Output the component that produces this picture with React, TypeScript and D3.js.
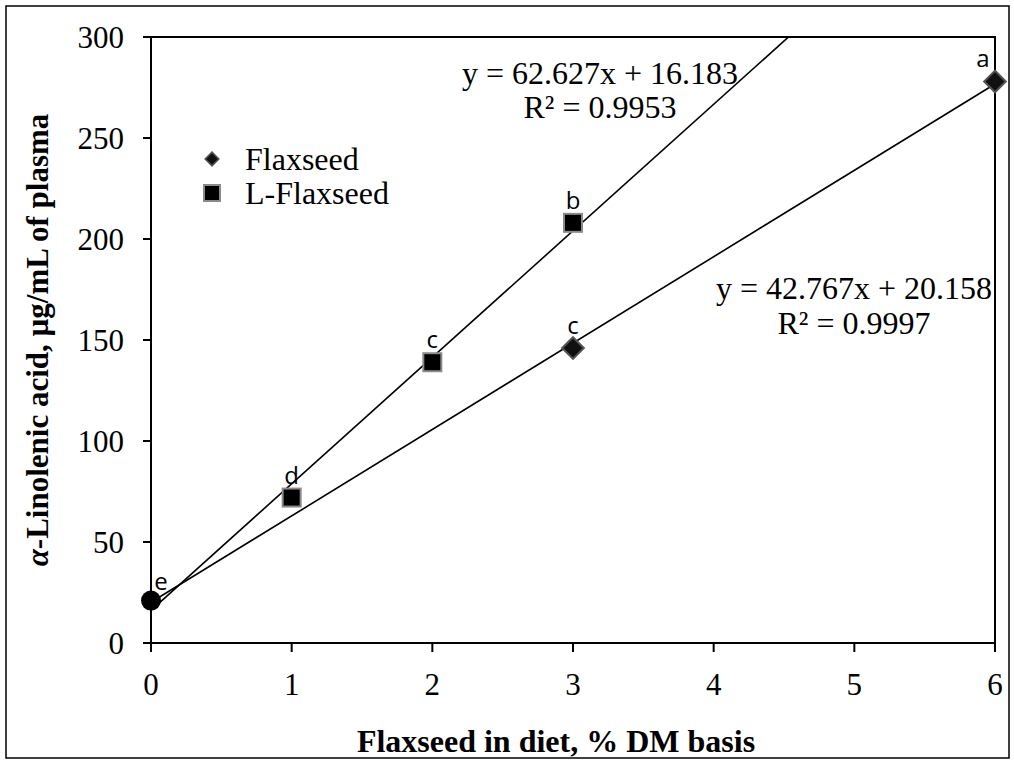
import React from 'react'
import * as d3 from 'd3'

const width = 1014
const height = 764
const margin = { top: 37, right: 19, bottom: 121, left: 151 }

// x-axis tick labels, % flaxseed in diet
const doseTicks = [0, 1, 2, 3, 4, 5, 6]
const alaTicks = [0, 50, 100, 150, 200, 250, 300]

// Flaxseed series
const flaxDose = [3, 6]
const flaxAla = [146, 278]
const flaxLetters = ['c', 'a']

// L-Flaxseed series
const lflaxDose = [1, 2, 3]
const lflaxAla = [72, 139, 208]
const lflaxLetters = ['d', 'c', 'b']

// shared control (0 %)
const ctrlDose = [0]
const ctrlAla = [21]
const ctrlLetters = ['e']

// trendlines: slope, intercept
const flaxFit = [42.767, 20.158]
const lflaxFit = [62.627, 16.183]
const flaxEq = ['y = 42.767x + 20.158', 'R² = 0.9997']
const lflaxEq = ['y = 62.627x + 16.183', 'R² = 0.9953']

const legendNames = ['Flaxseed', 'L-Flaxseed']

const serif = "'Liberation Serif', 'Times New Roman', serif"
const sans = "'Open Sans', 'DejaVu Sans', sans-serif"

export default function App() {
  const x = d3.scaleLinear().domain([0, 6]).range([margin.left, width - margin.right])
  const y = d3.scaleLinear().domain([0, 300]).range([height - margin.bottom, margin.top])
  const x0 = x.range()[0], x1 = x.range()[1]
  const y0 = y.range()[0], y1 = y.range()[1]

  const fitPath = (fit: number[]) =>
    d3.line<number>()
      .x(d => x(d))
      .y(d => y(fit[0] * d + fit[1]))([0, 6])

  const diamond = d3.symbol().type(d3.symbolDiamond2)
  // letters sit above each point, kept inside the plot area
  const letter = (px: number, py: number, t: string, k: string) => (
    <text key={k} x={Math.min(Math.max(px, x0 + 10), x1 - 12)} y={py - 14}
      fontFamily={sans} fontSize={24} textAnchor="middle" fill="#000">{t}</text>
  )

  return (
    <div>
      <style>{`body{margin:0}`}</style>
      <svg width={width} height={height} style={{ display: 'block' }}>
        <rect x={0} y={0} width={width} height={height} fill="#fff" />
        <rect x={6} y={6} width={1003} height={752} fill="none" stroke="#000" strokeWidth={1.5} />
        <defs>
          <clipPath id="plot">
            <rect x={x0} y={y1} width={x1 - x0} height={y0 - y1} />
          </clipPath>
        </defs>

        {/* plot border (top/right) */}
        <path d={`M${x0},${y1}H${x1}V${y0}`} fill="none" stroke="#000" strokeWidth={2} />

        {/* trendlines */}
        <g clipPath="url(#plot)" stroke="#000" strokeWidth={1.6} fill="none">
          <path d={fitPath(flaxFit) || ''} />
          <path d={fitPath(lflaxFit) || ''} />
        </g>

        {/* axes */}
        <g stroke="#000" strokeWidth={2}>
          <line x1={x0} x2={x0} y1={y1} y2={y0 + 1} />
          <line x1={x0 - 1} x2={x1} y1={y0} y2={y0} />
          {alaTicks.map(t => <line key={'yt' + t} x1={x0 - 8} x2={x0} y1={y(t)} y2={y(t)} />)}
          {doseTicks.map(t => <line key={'xt' + t} x1={x(t)} x2={x(t)} y1={y0} y2={y0 + 9} />)}
        </g>
        <g fontFamily={serif} fontSize={31} fill="#000">
          {alaTicks.map(t => (
            <text key={'yl' + t} x={x0 - 27} y={y(t)} dy="0.34em" textAnchor="end">{t}</text>
          ))}
          {doseTicks.map(t => (
            <text key={'xl' + t} x={x(t)} y={y0 + 52} textAnchor="middle">{t}</text>
          ))}
        </g>

        {/* markers */}
        {lflaxDose.map((d, i) => (
          <rect key={'sq' + i} x={x(d) - 9} y={y(lflaxAla[i]) - 9} width={18} height={18}
            fill="#000" stroke="#8a8a8a" strokeWidth={2} />
        ))}
        {flaxDose.map((d, i) => (
          <path key={'dm' + i} d={diamond.size(300)() || ''}
            transform={`translate(${x(d)},${y(flaxAla[i])})`}
            fill="#111" stroke="#555" strokeWidth={2} />
        ))}
        {ctrlDose.map((d, i) => (
          <circle key={'ct' + i} cx={x(d)} cy={y(ctrlAla[i])} r={10} fill="#000" />
        ))}

        {/* significance letters */}
        {flaxDose.map((d, i) => letter(x(d), y(flaxAla[i]), flaxLetters[i], 'fl' + i))}
        {lflaxDose.map((d, i) => letter(x(d), y(lflaxAla[i]), lflaxLetters[i], 'll' + i))}
        {ctrlDose.map((d, i) => letter(x(d), y(ctrlAla[i]) + 3, ctrlLetters[i], 'cl' + i))}

        {/* trendline equations */}
        <g fontFamily={serif} fontSize={32} fill="#000" textAnchor="middle">
          {lflaxEq.map((t, i) => <text key={'le' + i} x={600} y={84 + i * 34}>{t}</text>)}
          {flaxEq.map((t, i) => <text key={'fe' + i} x={854} y={299 + i * 35}>{t}</text>)}
        </g>

        {/* legend */}
        <g fontFamily={serif} fontSize={32} fill="#000">
          <path d={diamond.size(120)() || ''} transform="translate(212,159)" fill="#111" stroke="#555" strokeWidth={1.5} />
          <text x={245} y={159} dy="0.34em">{legendNames[0]}</text>
          <rect x={204} y={185} width={16} height={16} fill="#000" stroke="#8a8a8a" strokeWidth={2} />
          <text x={245} y={193} dy="0.34em">{legendNames[1]}</text>
        </g>

        {/* axis titles */}
        <text x={556} y={752} textAnchor="middle" fontFamily={serif}
          fontSize={32} fontWeight="bold">Flaxseed in diet, % DM basis</text>
        <text transform={`translate(37,${(y0 + y1) / 2}) rotate(-90)`} dy="0.34em" textAnchor="middle"
          fontFamily={serif} fontSize={31} fontWeight="bold">
          <tspan fontStyle="italic">α</tspan>-Linolenic acid, µg/mL of plasma
        </text>
      </svg>
    </div>
  )
}
